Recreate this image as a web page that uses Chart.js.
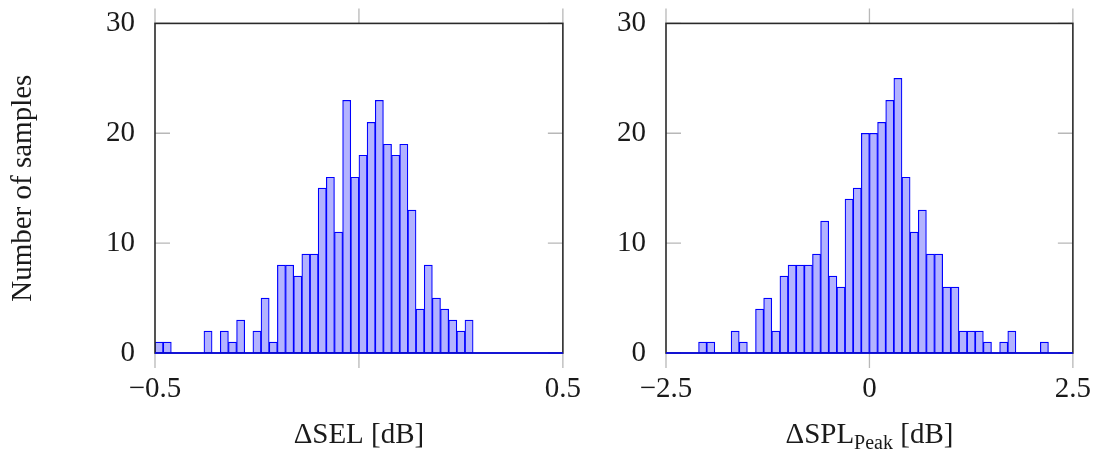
<!DOCTYPE html>
<html>
<head>
<meta charset="utf-8">
<script src="https://cdn.jsdelivr.net/npm/chart.js@4"></script>
<style>
  html, body { margin: 0; padding: 0; background: #fff; overflow: hidden; }
  #wrap { position: relative; width: 1095px; height: 452px; overflow: hidden; }
  canvas { position: absolute; top: -6px; }
</style>
</head>
<body>
<div id="wrap">
  <canvas id="selChart" width="592" height="458" style="left:0"></canvas>
  <canvas id="splChart" width="512" height="458" style="left:590px"></canvas>
</div>
<script>
// left histogram: ΔSEL, 50 bins from -0.5 to 0.5 dB
const selBinStart = -0.5;
const selBinWidth = 0.02;
const selCounts = [1, 1, 0, 0, 0, 0, 2, 0, 2, 1, 3, 0, 2, 5, 1, 8, 8, 7, 9, 9, 15, 16, 11, 23, 16,
  18, 21, 23, 19, 18, 19, 13, 4, 8, 5, 4, 3, 2, 3, 0, 0, 0, 0, 0, 0, 0, 0, 0, 0, 0];
const selXTicks = [-0.5, 0, 0.5];
const selXTickLabels = ['\u22120.5', '', '0.5'];

// right histogram: ΔSPL_Peak, 50 bins from -2.5 to 2.5 dB
const splBinStart = -2.5;
const splBinWidth = 0.1;
const splCounts = [0, 0, 0, 0, 1, 1, 0, 0, 2, 1, 0, 4, 5, 2, 7, 8, 8, 8, 9, 12, 7, 6, 14, 15, 20,
  20, 21, 23, 25, 16, 11, 13, 9, 9, 6, 6, 2, 2, 2, 1, 0, 1, 2, 0, 0, 0, 1, 0, 0, 0];
const splXTicks = [-2.5, 0, 2.5];
const splXTickLabels = ['\u22122.5', '0', '2.5'];

const yTicks = [0, 10, 20, 30];
const yTickLabels = ['0', '10', '20', '30'];

const FONT = "'Liberation Serif', 'DejaVu Serif', serif";
const FONT_SIZE = 29;

// frame, tick marks and the blue zero line, drawn from the chart scales
const framePlugin = {
  id: 'frame',
  beforeDatasetsDraw(chart) {
    const { ctx, chartArea: a, scales: { x, y } } = chart;
    ctx.save();
    ctx.strokeStyle = '#b8b8b8';
    ctx.lineWidth = 1.3;
    x.ticks.forEach(t => {
      const px = x.getPixelForValue(t.value);
      ctx.beginPath();
      ctx.moveTo(px, a.top - 15); ctx.lineTo(px, a.top);
      ctx.moveTo(px, a.bottom); ctx.lineTo(px, a.bottom + 15);
      ctx.stroke();
    });
    y.ticks.forEach(t => {
      const py = y.getPixelForValue(t.value);
      ctx.beginPath();
      ctx.moveTo(a.left, py); ctx.lineTo(a.left + 15, py);
      ctx.moveTo(a.right, py); ctx.lineTo(a.right - 15, py);
      ctx.stroke();
    });
    ctx.restore();
  },
  afterDatasetsDraw(chart) {
    const { ctx, chartArea: a, scales: { y } } = chart;
    ctx.save();
    ctx.strokeStyle = '#2a2a2a';
    ctx.lineWidth = 1.6;
    ctx.strokeRect(a.left, a.top, a.right - a.left, a.bottom - a.top);
    const y0 = y.getPixelForValue(0);
    ctx.strokeStyle = '#0000ff';
    ctx.lineWidth = 1.6;
    ctx.beginPath();
    ctx.moveTo(a.left, y0); ctx.lineTo(a.right, y0);
    ctx.stroke();
    ctx.restore();
  }
};

// x title with optional subscript part
function xTitlePlugin(parts) {
  return {
    id: 'xTitle',
    afterDraw(chart) {
      const { ctx, chartArea: a } = chart;
      ctx.save();
      ctx.fillStyle = '#1a1a1a';
      ctx.textBaseline = 'alphabetic';
      const widths = parts.map(p => {
        ctx.font = `${p.sub ? 20 : FONT_SIZE}px ${FONT}`;
        return ctx.measureText(p.text).width;
      });
      const total = widths.reduce((s, w) => s + w, 0);
      let cx = (a.left + a.right) / 2 - total / 2;
      const base = a.bottom + 90;
      parts.forEach((p, i) => {
        ctx.font = `${p.sub ? 20 : FONT_SIZE}px ${FONT}`;
        ctx.fillText(p.text, cx, p.sub ? base + 6 : base);
        cx += widths[i];
      });
      ctx.restore();
    }
  };
}

function histogram(canvasId, binStart, binWidth, counts, xTicks, xTickLabels, opts) {
  const points = counts.map((c, i) => ({ x: binStart + (i + 0.5) * binWidth, y: c }));
  return new Chart(document.getElementById(canvasId), {
    type: 'bar',
    data: {
      datasets: [{
        data: points,
        backgroundColor: '#b3b3ff',
        borderColor: '#0000ff',
        borderWidth: 1.2,
        borderSkipped: false,
        barPercentage: 1,
        categoryPercentage: 1
      }]
    },
    options: {
      responsive: false,
      animation: false,
      devicePixelRatio: 1,
      layout: { padding: { top: 23, right: opts.padRight, left: 0, bottom: 0 } },
      plugins: { legend: { display: false }, tooltip: { enabled: false } },
      scales: {
        x: {
          type: 'linear',
          min: xTicks[0],
          max: xTicks[xTicks.length - 1],
          offset: false,
          grid: { display: false, offset: false },
          border: { display: false },
          afterBuildTicks: s => { s.ticks = xTicks.map(v => ({ value: v })); },
          afterFit: s => { s.height = 99; },
          ticks: {
            autoSkip: false,
            maxRotation: 0,
            padding: 11,
            color: '#1a1a1a',
            font: { family: FONT, size: FONT_SIZE },
            callback: v => xTickLabels[xTicks.indexOf(v)]
          }
        },
        y: {
          min: 0,
          max: 30,
          grid: { display: false },
          border: { display: false },
          afterBuildTicks: s => { s.ticks = yTicks.map(v => ({ value: v })); },
          afterFit: s => { s.width = opts.yWidth; },
          ticks: {
            padding: 12,
            color: '#1a1a1a',
            font: { family: FONT, size: FONT_SIZE },
            callback: v => yTickLabels[yTicks.indexOf(v)]
          },
          title: {
            display: !!opts.yTitle,
            text: opts.yTitle || '',
            color: '#1a1a1a',
            font: { family: FONT, size: FONT_SIZE },
            padding: { top: 6, bottom: 0 }
          }
        }
      }
    },
    plugins: [framePlugin, xTitlePlugin(opts.xTitle)]
  });
}

histogram('selChart', selBinStart, selBinWidth, selCounts, selXTicks, selXTickLabels, {
  padRight: 27, yWidth: 155, yTitle: 'Number of samples',
  xTitle: [{ text: '\u0394SEL [dB]' }]
});

histogram('splChart', splBinStart, splBinWidth, splCounts, splXTicks, splXTickLabels, {
  padRight: 22, yWidth: 76,
  xTitle: [{ text: '\u0394SPL' }, { text: 'Peak', sub: true }, { text: ' [dB]' }]
});
</script>
</body>
</html>
